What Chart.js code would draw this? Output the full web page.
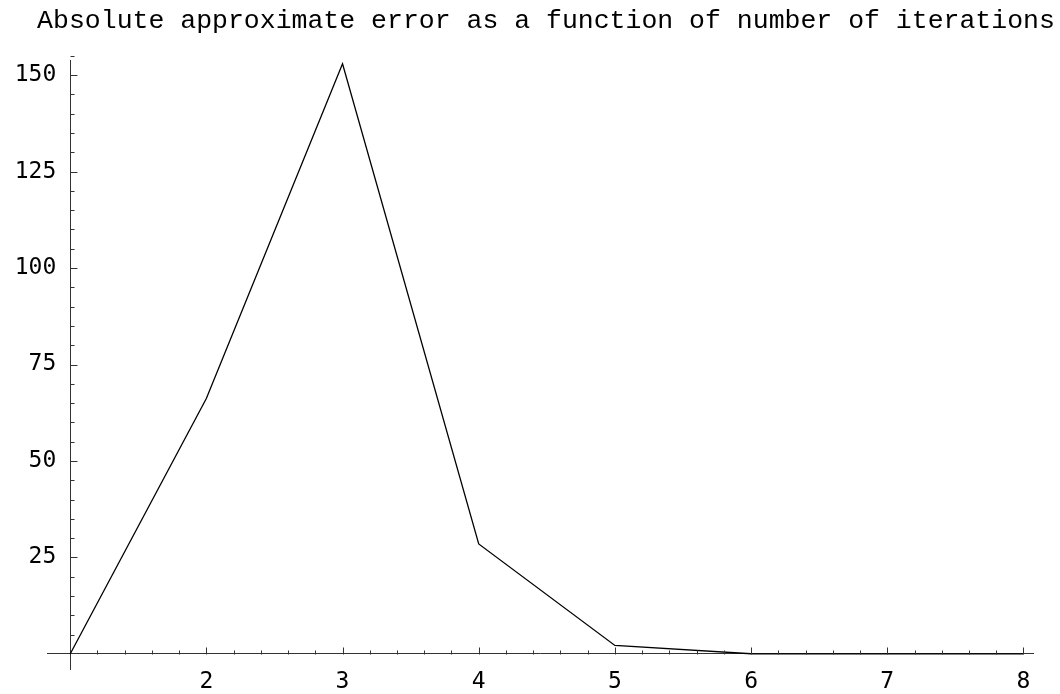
<!DOCTYPE html>
<html>
<head>
<meta charset="utf-8">
<script src="https://cdn.jsdelivr.net/npm/chart.js@4/dist/chart.umd.min.js"></script>
<style>
  html, body { margin: 0; padding: 0; background: #fff; }
  #wrap { width: 1060px; height: 694px; }
</style>
</head>
<body>
<div id="wrap"><canvas id="err-chart" width="1060" height="694"></canvas></div>
<script>
'use strict';

// ─── Data ────────────────────────────────────────────────
const iterations = [1, 2, 3, 4, 5, 6, 7, 8];
const absError   = [0, 66.2, 152.9, 28.5, 2.2, 0.05, 0, 0];

const xLabels = [2, 3, 4, 5, 6, 7, 8];
const yLabels = [25, 50, 75, 100, 125, 150];

const titleText = 'Absolute approximate error as a function of number of iterations';

// ─── Inward tick marks + title (Mathematica style) ───────
const inwardTicks = {
  id: 'inwardTicks',
  afterDraw(chart) {
    const { ctx: c, scales: { x, y } } = chart;
    const x0 = Math.round(x.getPixelForValue(1)) + 0.5;
    const y0 = Math.round(y.getPixelForValue(0)) + 0.5;
    c.save();
    c.strokeStyle = '#333';
    c.lineWidth = 1;
    c.beginPath();
    x.ticks.forEach(t => {
      if (t.value <= 1) return;
      const px = Math.round(x.getPixelForValue(t.value)) + 0.5;
      const len = Math.abs(t.value - Math.round(t.value)) < 1e-6 ? 7 : 4;
      c.moveTo(px, y0); c.lineTo(px, y0 - len);
    });
    y.ticks.forEach(t => {
      if (t.value <= 0) return;
      const py = Math.round(y.getPixelForValue(t.value)) + 0.5;
      const len = t.value % 25 === 0 ? 7 : 4;
      c.moveTo(x0, py); c.lineTo(x0 + len, py);
    });
    c.stroke();

    // title drawn by hand: the built-in one gets squeezed to the padded width
    c.font = "26.5px 'Liberation Mono', monospace";
    c.fillStyle = '#000';
    c.textAlign = 'center';
    c.textBaseline = 'middle';
    c.fillText(titleText, 546, 21);
    c.restore();
  },
};

const tickFont = { family: "'DejaVu Sans Mono', monospace", size: 23 };

new Chart(document.getElementById('err-chart'), {
  type: 'line',
  data: {
    datasets: [{
      data: iterations.map((it, i) => ({ x: it, y: absError[i] })),
      borderColor: '#000',
      borderWidth: 1.3,
      pointRadius: 0,
      tension: 0,
      fill: false,
    }],
  },
  plugins: [inwardTicks],
  options: {
    responsive: false,
    animation: false,
    layout: { padding: { left: 47, right: 27, top: 60, bottom: 25 } },
    scales: {
      x: {
        type: 'linear',
        min: 0.83, max: 8.07,
        position: { y: 0 },
        afterBuildTicks(scale) {
          const ticks = [];
          for (let k = 5; k <= 40; k++) ticks.push({ value: k / 5 });
          scale.ticks = ticks;
        },
        ticks: {
          autoSkip: false, maxRotation: 0, padding: 14,
          color: '#000', font: tickFont,
          callback: v => (Math.abs(v - Math.round(v)) < 1e-6 && xLabels.includes(Math.round(v)) ? String(Math.round(v)) : ''),
        },
        grid: { drawOnChartArea: false, drawTicks: false },
        border: { color: '#333', width: 1 },
      },
      y: {
        type: 'linear',
        min: -3.9, max: 153.9,
        position: { x: 1 },
        afterBuildTicks(scale) {
          const ticks = [];
          for (let v = 0; v <= 155; v += 5) ticks.push({ value: v });
          scale.ticks = ticks;
        },
        ticks: {
          autoSkip: false,
          color: '#000', font: tickFont,
          // trailing space keeps the right-aligned label off the axis line
          callback: v => (yLabels.includes(v) ? String(v) + ' ' : ''),
        },
        grid: { drawOnChartArea: false, drawTicks: false },
        border: { color: '#333', width: 1 },
      },
    },
    plugins: {
      legend: { display: false },
      tooltip: { enabled: false },
      title: { display: false },
    },
  },
});
</script>
</body>
</html>
